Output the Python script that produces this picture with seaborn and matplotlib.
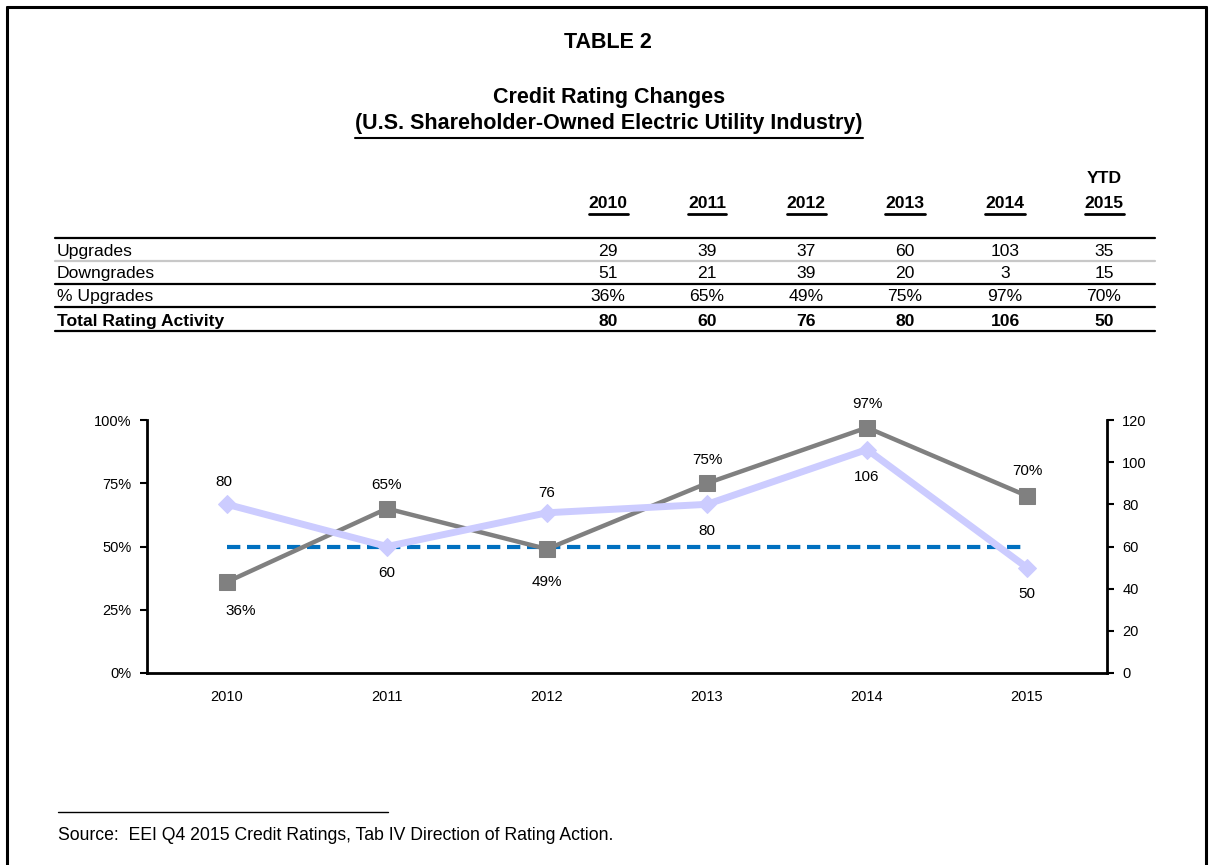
import matplotlib
matplotlib.use("Agg")
import matplotlib.pyplot as plt
import seaborn as sns
import pandas as pd
from matplotlib.lines import Line2D
from matplotlib.ticker import PercentFormatter, FixedLocator

# ---------------- data ----------------
years = ["2010", "2011", "2012", "2013", "2014", "2015"]
header_top = ["", "", "", "", "", "YTD"]
header_years = ["2010", "2011", "2012", "2013", "2014", "2015"]
upgrades = [29, 39, 37, 60, 103, 35]
downgrades = [51, 21, 39, 20, 3, 15]
pct_upgrades = [36, 65, 49, 75, 97, 70]
total_activity = [80, 60, 76, 80, 106, 50]
reference_line = [50, 50, 50, 50, 50, 50]
row_labels = ["Upgrades", "Downgrades", "% Upgrades", "Total Rating Activity"]

sns.set_style("white")
plt.rcParams['font.family'] = ['Liberation Sans', 'DejaVu Sans']
for k in ["text.color", "axes.labelcolor", "xtick.color", "ytick.color"]:
    plt.rcParams[k] = "black"

W, H = 1212, 865
fig = plt.figure(figsize=(W / 100, H / 100), dpi=100)


def fx(x):
    return x / W


def fy(y):
    return 1 - y / H


# page border
for (x0, y0, x1, y1) in [(7, 7, 1206, 7), (7, 7, 7, 865), (1206, 7, 1206, 865)]:
    fig.add_artist(Line2D([fx(x0), fx(x1)], [fy(y0), fy(y1)], color="black", lw=2.2))

TITLE_FS = 15.5
TABLE_FS = 12.6

# titles
fig.text(fx(608), fy(43), "TABLE 2", ha="center", va="center", fontsize=TITLE_FS, fontweight="bold")
fig.text(fx(609), fy(97), "Credit Rating Changes", ha="center", va="center", fontsize=TITLE_FS, fontweight="bold")
sub = fig.text(fx(609), fy(124), "(U.S. Shareholder-Owned Electric Utility Industry)", ha="center", va="center",
               fontsize=TITLE_FS, fontweight="bold")

fig.canvas.draw()
renderer = fig.canvas.get_renderer()


def underline(txt, y_px, lw=1.6):
    bb = txt.get_window_extent(renderer=renderer)
    fig.add_artist(Line2D([bb.x0 / W, bb.x1 / W], [fy(y_px), fy(y_px)], color="black", lw=lw))


underline(sub, 138, lw=1.5)

# table
col_x = [608, 707, 806, 905, 1005, 1104]
for cx, top, yr in zip(col_x, header_top, header_years):
    if top:
        fig.text(fx(cx), fy(183), top, ha="center", va="baseline", fontsize=TABLE_FS, fontweight="bold")
    t = fig.text(fx(cx), fy(208), yr, ha="center", va="baseline", fontsize=TABLE_FS, fontweight="bold")
    fig.canvas.draw()
    underline(t, 214, lw=2.0)

row_baseline = [256, 278, 301, 326]
rows = [
    [str(v) for v in upgrades],
    [str(v) for v in downgrades],
    [f"{v}%" for v in pct_upgrades],
    [str(v) for v in total_activity],
]
for i, (lab, ry, vals) in enumerate(zip(row_labels, row_baseline, rows)):
    bold = "bold" if i == 3 else "normal"
    fig.text(fx(57), fy(ry), lab, ha="left", va="baseline", fontsize=TABLE_FS, fontweight=bold)
    for cx, v in zip(col_x, vals):
        fig.text(fx(cx), fy(ry), v, ha="center", va="baseline", fontsize=TABLE_FS, fontweight=bold)

for ly, col, lw in [(238, "black", 1.6), (261, "#c8c8c8", 1.6), (284, "black", 1.6),
                    (307, "black", 1.6), (331, "black", 1.6)]:
    fig.add_artist(Line2D([fx(55), fx(1155)], [fy(ly), fy(ly)], color=col, lw=lw))

# ---------------- chart ----------------
ax_left, ax_right, ax_bot, ax_top = 147, 1107, 673, 420
ax = fig.add_axes([fx(ax_left), fy(ax_bot), fx(ax_right - ax_left), (ax_bot - ax_top) / H])
df = pd.DataFrame({"x": range(len(years)), "pct": pct_upgrades, "total": total_activity,
                   "ref": reference_line})

sns.lineplot(data=df, x="x", y="ref", ax=ax, color="#0070C0", lw=3, dashes=False, zorder=2)
ax.lines[-1].set_dashes([3.2, 1.6])
sns.lineplot(data=df, x="x", y="pct", ax=ax, color="#808080", lw=3.2, marker="s", markersize=11.5,
             markeredgecolor="#808080", zorder=3)

ax.set_xlim(-0.5, 5.5)
ax.set_ylim(0, 100)
ax.yaxis.set_major_locator(FixedLocator([0, 25, 50, 75, 100]))
ax.yaxis.set_major_formatter(PercentFormatter(decimals=0))
ax.set_xticks(range(len(years)))
ax.set_xticklabels(years)
ax.set_xlabel("")
ax.set_ylabel("")
ax.tick_params(axis="y", direction="out", length=5, width=1.5, labelsize=10.5, pad=6, left=True)
ax.tick_params(axis="x", length=0, labelsize=10.5, pad=12)
for s in ["top", "right"]:
    ax.spines[s].set_visible(False)
for s in ["left", "bottom"]:
    ax.spines[s].set_color("black")
    ax.spines[s].set_linewidth(2)

ax2 = ax.twinx()
sns.lineplot(data=df, x="x", y="total", ax=ax2, color="#CCCCFF", lw=5, marker="D", markersize=9,
             markeredgecolor="#CCCCFF", zorder=3)
ax2.set_ylim(0, 120)
ax2.yaxis.set_major_locator(FixedLocator([0, 20, 40, 60, 80, 100, 120]))
ax2.set_ylabel("")
ax2.tick_params(axis="y", direction="out", length=5, width=1.5, labelsize=10.5, pad=6, right=True)
for s in ["top", "left", "bottom"]:
    ax2.spines[s].set_visible(False)
ax2.spines["right"].set_color("black")
ax2.spines["right"].set_linewidth(2)

# data labels (offsets in points)
pct_offsets = [(10, -21), (0, 17), (0, -24), (0, 17), (0, 17), (0, 18)]
tot_offsets = [(-2, 16), (0, -19), (0, 14), (0, -19), (0, -20), (0, -19)]
for i, (v, (ox, oy)) in enumerate(zip(pct_upgrades, pct_offsets)):
    ax.annotate(f"{v}%", (i, v), xytext=(ox, oy), textcoords="offset points", ha="center", va="center",
                fontsize=11)
for i, (v, (ox, oy)) in enumerate(zip(total_activity, tot_offsets)):
    ax2.annotate(str(v), (i, v), xytext=(ox, oy), textcoords="offset points", ha="center", va="center",
                 fontsize=11)

# footnote
fig.add_artist(Line2D([fx(58), fx(388)], [fy(812), fy(812)], color="black", lw=1))
fig.text(fx(58), fy(835), "Source:  EEI Q4 2015 Credit Ratings, Tab IV Direction of Rating Action.",
         ha="left", va="center", fontsize=12.7)

fig.savefig("out.png", dpi=100)
